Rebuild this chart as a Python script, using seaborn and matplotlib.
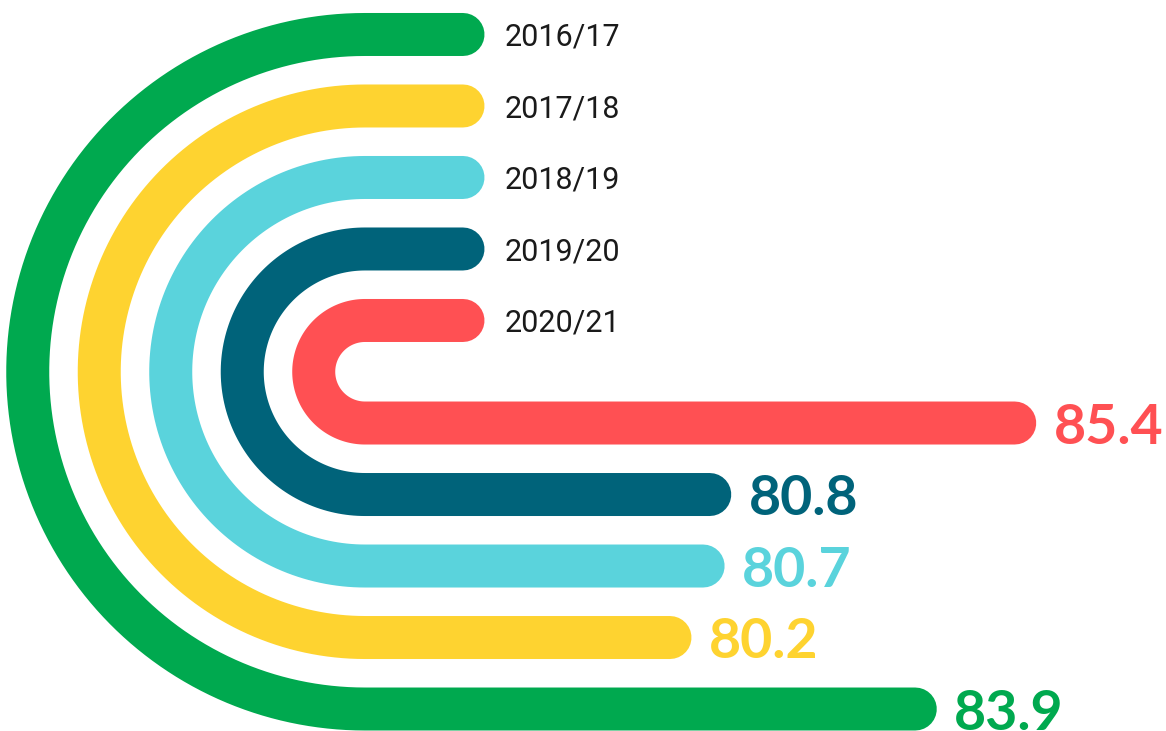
import numpy as np
import pandas as pd
import matplotlib.pyplot as plt
import seaborn as sns

# =========================
# DATA
# =========================

seasons = ["2016/17", "2017/18", "2018/19", "2019/20", "2020/21"]
values = [83.9, 80.2, 80.7, 80.8, 85.4]
colors = ["#00A94F", "#FED330", "#5AD3DC", "#00637A", "#FF5053"]

# =========================
# LAYOUT (px based)
# =========================

W, H, DPI = 1166, 731, 100
px_per_unit = 66.3        # x pixels per value unit
ring_px = 71.5            # y pixels per ring step
x_start = 75.6            # value where the straight part begins (arc centre)
stub_end = x_start + 98 / px_per_unit
cx_px = 365
cy_px = 371.75
lw_px = 43
gap_px = 42               # from line end to year text
gap_val_px = 39           # from line end to value text

sns.set_theme(style="white")

fig = plt.figure(figsize=(W / DPI, H / DPI), dpi=DPI)
ax = fig.add_axes([0, 0, 1, 1])

x_left = x_start - cx_px / px_per_unit
ax.set_xlim(x_left, x_left + W / px_per_unit)
ax.set_ylim(-(H - cy_px) / ring_px, cy_px / ring_px)
ax.axis("off")

# build one path per season: top stub -> half circle -> bar
rows = []
n = len(seasons)
theta = np.linspace(np.pi / 2, 3 * np.pi / 2, 120)
for i, (season, val) in enumerate(zip(seasons, values)):
    r = 0.717 + (n - 1 - i)
    xs = [stub_end, x_start]
    ys = [r, r]
    xs += list(x_start + r * ring_px / px_per_unit * np.cos(theta))
    ys += list(r * np.sin(theta))
    xs += [x_start, val]
    ys += [-r, -r]
    for j, (x, y) in enumerate(zip(xs, ys)):
        rows.append({"season": season, "step": j, "x": x, "y": y})

df = pd.DataFrame(rows)

sns.lineplot(
    data=df, x="x", y="y", hue="season", units="season", estimator=None,
    sort=False, palette=colors, linewidth=lw_px * 72 / DPI,
    solid_capstyle="round", solid_joinstyle="round", legend=False, ax=ax
)

# labels
for i, (season, val, c) in enumerate(zip(seasons, values, colors)):
    r = 0.717 + (n - 1 - i)
    ax.annotate(season, (stub_end, r), xytext=(gap_px * 72 / DPI, 0),
                textcoords="offset points", ha="left", va="center_baseline",
                fontsize=22, color="#1a1a1a", family="Roboto")
    ax.annotate(f"{val:.1f}", (val, -r), xytext=(gap_val_px * 72 / DPI, 0),
                textcoords="offset points", ha="left", va="center_baseline",
                fontsize=40, color=c, family="Lato", fontweight="bold")

fig.savefig("out.png", dpi=DPI)
